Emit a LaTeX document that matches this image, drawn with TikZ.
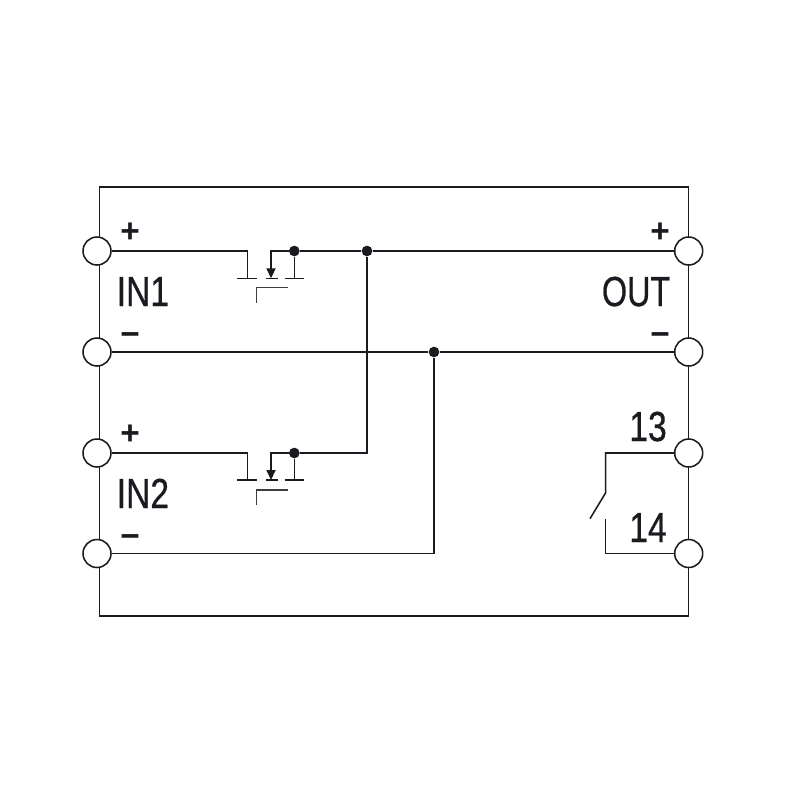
\documentclass[tikz,border=0pt]{standalone}
\usepackage{fontspec}
\setmainfont{Liberation Sans}
\newfontfamily\labelfont{Liberation Sans}[FakeBold=0.7]
\usetikzlibrary{arrows.meta}
\definecolor{ink}{HTML}{1A1A20}
\tikzset{
  wire/.style={draw=ink,line width=1.15pt,line cap=butt,line join=miter},
  thin wire/.style={draw=ink!85,line width=1.05pt},
  terminal/.style={circle,draw=ink,fill=white,line width=1.15pt,minimum size=21pt,inner sep=0pt},
  junction/.style={circle,fill=ink,minimum size=8pt,inner sep=0pt},
  big/.style={inner sep=0pt,text=ink,font=\labelfont\fontsize{31.5}{31.5}\selectfont},
  sign/.style={inner sep=0pt,text=ink,font=\fontsize{25}{25}\selectfont\bfseries},
  arrowed/.style={wire,-{Triangle[length=7.5pt,width=6.8pt]}}
}
\newcommand{\narrowtxt}[1]{\scalebox{0.8}[1]{#1}}
\begin{document}
\begin{tikzpicture}[x=0.75pt,y=-0.75pt]
\useasboundingbox (0,0) rectangle (800,800);
\fill[white] (0,0) rectangle (800,800);
% frame
\draw[wire] (99.5,187) rectangle (688.7,616);
% terminals
\node[terminal] (L1) at (97,251) {};
\node[terminal] (L2) at (97,352) {};
\node[terminal] (L3) at (97,453) {};
\node[terminal] (L4) at (97,553.5) {};
\node[terminal] (R1) at (688.7,251) {};
\node[terminal] (R2) at (688.7,352) {};
\node[terminal] (R3) at (688.7,453) {};
\node[terminal] (R4) at (688.7,553.5) {};
% junctions
\node[junction] (J1) at (294.3,251) {};
\node[junction] (J2) at (367,251) {};
\node[junction] (J3) at (434,352) {};
\node[junction] (J4) at (294.3,453) {};
% FET 1
\coordinate (G1) at (247.3,278.3);
\coordinate (S1) at (271,278.3);
\coordinate (D1) at (294.3,278.3);
\draw[wire] (L1) -| (G1);
\draw[wire] (237,278.3) -- (257,278.3);
\draw[wire] (265.7,278.3) -- (278.3,278.3);
\draw[wire] (284.7,278.3) -- (304.3,278.3);
\draw[arrowed] (J1) -| (S1);
\draw[wire] (J1) -- (D1);
\draw[thin wire] (256.7,302.7) -- (256.7,287.7) -- (287.7,287.7);
\draw[wire] (J1) -- (J2);
\draw[wire] (J2) -- (R1);
% FET 2
\coordinate (G2) at (247.3,480);
\coordinate (S2) at (271,480);
\coordinate (D2) at (294.3,480);
\draw[wire] (L3) -| (G2);
\draw[wire] (237,480) -- (257,480);
\draw[wire] (265.7,480) -- (278.3,480);
\draw[wire] (284.7,480) -- (304.3,480);
\draw[arrowed] (J4) -| (S2);
\draw[wire] (J4) -- (D2);
\draw[thin wire] (256.7,504.7) -- (256.7,490) -- (287.7,490);
\draw[wire] (J4) -| (J2);
% minus rail
\draw[wire] (L2) -- (J3);
\draw[wire] (J3) -- (R2);
\draw[wire] (L4) -| (J3);
% relay contact
\coordinate (K1) at (605.7,492.7);
\coordinate (K2) at (590,518.7);
\coordinate (K3) at (605.7,518.5);
\draw[wire] (R3) -| (K1) -- (K2);
\draw[wire] (R4) -| (K3);
% labels
\node[big,anchor=base west] (tIN1) at (116.5,306) {\narrowtxt{IN1}};
\node[big,anchor=base west] (tIN2) at (116.5,508) {\narrowtxt{IN2}};
\node[big,anchor=base east] (tOUT) at (670.5,306) {\scalebox{0.77}[1]{OUT}};
\node[big,anchor=base east] (t13) at (667,441) {\narrowtxt{13}};
\node[big,anchor=base east] (t14) at (667,542) {\narrowtxt{14}};
\node[sign] (p1) at (130,233) {+};
\node[sign] (m1) at (130,339) {−};
\node[sign] (p2) at (130,435) {+};
\node[sign] (m2) at (130,541) {−};
\node[sign] (p3) at (660,233) {+};
\node[sign] (m3) at (660,339) {−};
\end{tikzpicture}
\end{document}
